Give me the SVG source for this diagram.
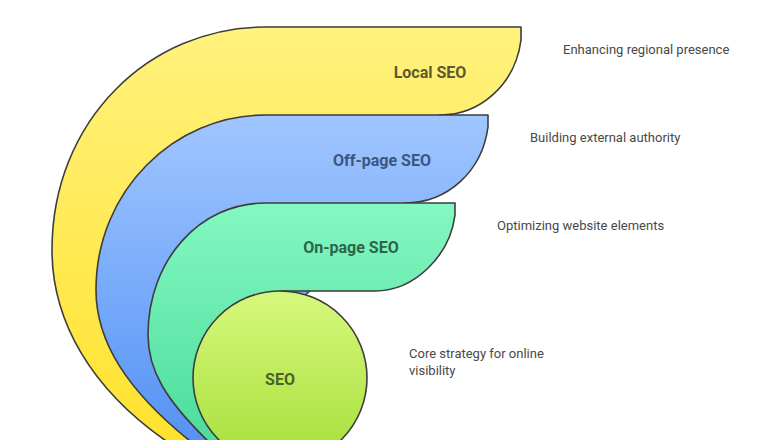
<svg xmlns="http://www.w3.org/2000/svg" width="780" height="440" viewBox="0 0 780 440">
<defs>
<linearGradient id="gy" x1="0" y1="0" x2="0" y2="1"><stop offset="0" stop-color="#fff27e"/><stop offset="1" stop-color="#ffe22e"/></linearGradient>
<linearGradient id="gb" x1="0" y1="0" x2="0" y2="1"><stop offset="0" stop-color="#a0c6ff"/><stop offset="1" stop-color="#5592f5"/></linearGradient>
<linearGradient id="gg" x1="0" y1="0" x2="0" y2="1"><stop offset="0" stop-color="#84f8c2"/><stop offset="1" stop-color="#4bdc9a"/></linearGradient>
<linearGradient id="gl" x1="0" y1="0" x2="0" y2="1"><stop offset="0" stop-color="#d6f87c"/><stop offset="1" stop-color="#a6df3a"/></linearGradient>
</defs>
<style>
.s{stroke:#3d3d3d;stroke-width:1.6;stroke-linejoin:round}
.t{font-family:Roboto,"Liberation Sans",sans-serif;font-weight:bold;font-size:16px;text-anchor:middle}
.d{font-family:Roboto,"Liberation Sans",sans-serif;font-size:13px;fill:#484848}
</style>
<rect width="780" height="440" fill="#fff"/>
<g id="local">
<path class="s" fill="url(#gy)" d="M172 445 C90 390 52 320 52 250 C52 120 150 27 265 27 L521 27 L521 40 C515 85 480 115 440 115 L300 200 L250 445 Z"/>
<text class="t" x="430" y="78" fill="#5c5a2c">Local SEO</text>
<text class="d" x="563" y="54">Enhancing regional presence</text>
</g>
<g id="offpage">
<path class="s" fill="url(#gb)" d="M195 445 C125 390 96 340 96 290 C96 190 175 115 265 115 L488 115 L488 127 C482 172 447 203 405 203 L300 300 L235 445 Z"/>
<text class="t" x="382" y="166" fill="#3e5580">Off-page SEO</text>
<text class="d" x="530" y="142">Building external authority</text>
</g>
<g id="onpage">
<path class="s" fill="url(#gg)" d="M212 445 C165 400 148 370 148 335 C148 260 200 203 265 203 L455 203 L455 215 C450 255 415 291 375 291 L280 291 L245 445 Z"/>
<text class="t" x="351" y="253" fill="#2f6448">On-page SEO</text>
<text class="d" x="497" y="230">Optimizing website elements</text>
</g>
<g id="seo">
<circle class="s" fill="url(#gl)" cx="280" cy="378" r="87"/>
<text class="t" x="280" y="385" fill="#4f5f28">SEO</text>
<text class="d" x="409" y="358">Core strategy for online</text>
<text class="d" x="409" y="375">visibility</text>
</g>
<g id="connectors"/>
</svg>
